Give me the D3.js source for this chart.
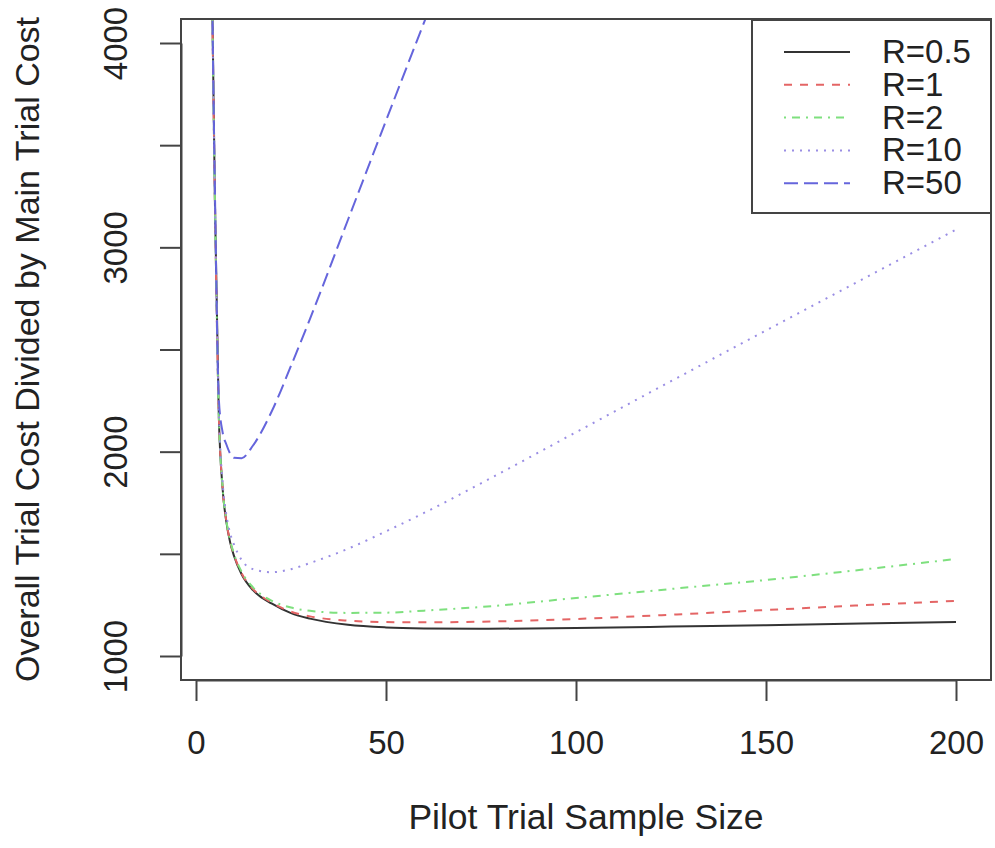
<!DOCTYPE html>
<html>
<head>
  <script src="https://d3js.org/d3.v7.min.js"></script>
  <style>
    body { margin: 0; background: #fff; }
    svg { font-family: "Liberation Sans", Arial, sans-serif; }
    .axis path, .axis line { stroke: #444; stroke-width: 2; }
    .axis text { fill: #222; font-size: 33px; }
  </style>
</head>
<body>
  <svg width="995" height="848"></svg>
  <script>
    // pilot sample size
    var nVals = [4, 5, 6, 7, 8, 9, 10, 12, 15, 20, 25, 30, 40, 50, 60, 75, 100, 125, 150, 175, 200];

    // overall cost / main trial cost
    var r05  = [4600, 3200, 2180, 1820, 1655, 1555, 1490, 1400, 1322, 1256, 1210, 1183, 1153, 1140, 1135, 1133, 1137, 1144, 1151, 1159, 1167];
    var r1   = [4600, 3200, 2182, 1822, 1658, 1560, 1495, 1405, 1328, 1261, 1217, 1194, 1173, 1166, 1165, 1168, 1181, 1202, 1225, 1248, 1270];
    var r2   = [4600, 3200, 2185, 1825, 1662, 1565, 1500, 1412, 1336, 1270, 1237, 1221, 1211, 1212, 1222, 1240, 1284, 1328, 1372, 1422, 1475];
    var r10  = [4600, 3210, 2200, 1850, 1690, 1600, 1545, 1470, 1425, 1410, 1425, 1455, 1525, 1610, 1700, 1845, 2095, 2345, 2593, 2840, 3087];
    var r50  = [4600, 3250, 2260, 2095, 2035, 1990, 1970, 1968, 2030, 2200, 2420, 2650, 3135, 3620, 4100, 4820, null, null, null, null, null];

    var labels = ["R=0.5", "R=1", "R=2", "R=10", "R=50"];
    var xTicks = [0, 50, 100, 150, 200];
    var yTicks = [1000, 1500, 2000, 2500, 3000, 3500, 4000];
    var yLabelled = [1000, 2000, 3000, 4000];

    var series = [r05, r1, r2, r10, r50];
    var colors = ["#333333", "#e46565", "#7ee07e", "#9a8ee4", "#6565dc"];
    var dashes = [null, "8,8", "2,6,8,6", "2,6", "14,6"];

    var svg = d3.select("svg");
    var box = {left: 181, right: 991, top: 19, bottom: 680};

    var x = d3.scaleLinear().domain([0, 200]).range([196, 956]);
    var y = d3.scaleLinear().domain([1000, 4000]).range([656, 43]);

    svg.append("defs").append("clipPath").attr("id", "plotclip")
      .append("rect")
      .attr("x", box.left).attr("y", box.top)
      .attr("width", box.right - box.left).attr("height", box.bottom - box.top);

    var line = d3.line()
      .defined(function(d) { return d[1] != null; })
      .x(function(d) { return x(d[0]); })
      .y(function(d) { return y(d[1]); })
      .curve(d3.curveMonotoneX);

    var lines = svg.append("g").attr("clip-path", "url(#plotclip)");
    series.forEach(function(s, i) {
      lines.append("path")
        .datum(nVals.map(function(n, j) { return [n, s[j]]; }))
        .attr("fill", "none")
        .attr("stroke", colors[i])
        .attr("stroke-width", 2)
        .attr("stroke-dasharray", dashes[i])
        .attr("d", line);
    });

    // plot box
    svg.append("rect")
      .attr("x", box.left).attr("y", box.top)
      .attr("width", box.right - box.left).attr("height", box.bottom - box.top)
      .attr("fill", "none").attr("stroke", "#444").attr("stroke-width", 2);

    // x axis
    var gx = svg.append("g")
      .attr("class", "axis")
      .attr("transform", "translate(0," + box.bottom + ")")
      .call(d3.axisBottom(x).tickValues(xTicks).tickSize(21).tickSizeOuter(0).tickPadding(0));
    gx.selectAll("text").attr("y", 74).attr("dy", 0);

    // y axis
    var gy = svg.append("g")
      .attr("class", "axis")
      .attr("transform", "translate(" + box.left + ",0)")
      .call(d3.axisLeft(y).tickValues(yTicks).tickSize(21).tickSizeOuter(0)
        .tickFormat(function(d) { return yLabelled.indexOf(d) >= 0 ? d : ""; }));
    gy.selectAll("text")
      .attr("x", 0).attr("dy", 0)
      .attr("text-anchor", "middle")
      .attr("transform", "translate(-54,0) rotate(-90)");

    // axis titles
    svg.append("text")
      .attr("x", (box.left + box.right) / 2).attr("y", 829)
      .attr("text-anchor", "middle")
      .style("font-size", "35.5px").attr("fill", "#222")
      .text("Pilot Trial Sample Size");

    svg.append("text")
      .attr("transform", "translate(39," + (box.top + box.bottom) / 2 + ") rotate(-90)")
      .attr("text-anchor", "middle")
      .style("font-size", "34px").attr("fill", "#222")
      .text("Overall Trial Cost Divided by Main Trial Cost");

    // legend
    var leg = svg.append("g");
    leg.append("rect")
      .attr("x", 752).attr("y", 20).attr("width", 991 - 752).attr("height", 193)
      .attr("fill", "#fff").attr("stroke", "#444").attr("stroke-width", 2);
    labels.forEach(function(l, i) {
      var ly = 52 + i * 32.8;
      leg.append("line")
        .attr("x1", 784).attr("x2", 850).attr("y1", ly).attr("y2", ly)
        .attr("stroke", colors[i]).attr("stroke-width", 2)
        .attr("stroke-dasharray", dashes[i]);
      leg.append("text")
        .attr("x", 882).attr("y", ly + 11)
        .style("font-size", "33px").attr("fill", "#222")
        .text(l);
    });
  </script>
</body>
</html>
